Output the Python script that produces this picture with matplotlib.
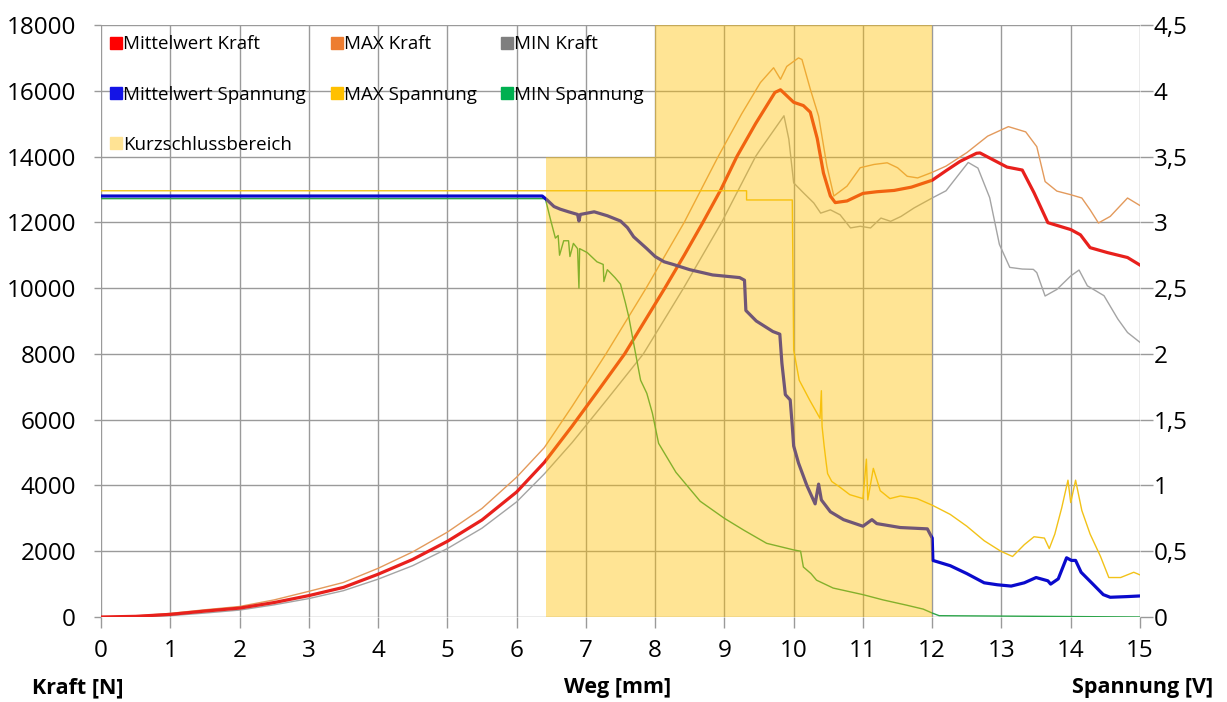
import matplotlib
matplotlib.use("Agg")
import matplotlib.pyplot as plt
from matplotlib.lines import Line2D
from matplotlib.ticker import FixedLocator, FuncFormatter

plt.rcParams["font.family"] = ["Open Sans", "DejaVu Sans"]

# ---- Kraft [N] über Weg [mm] ----
weg_kraft_mittel = [0, 0.5, 1, 1.5, 2, 2.5, 3, 3.5, 4, 4.5, 5, 5.5, 6, 6.4, 6.8, 7.2,
                    7.56, 7.85, 8.14, 8.42, 8.69, 8.95, 9.18, 9.45, 9.73, 9.81, 10.0,
                    10.14, 10.24, 10.34, 10.43, 10.53, 10.6, 10.77, 11.0, 11.2, 11.45,
                    11.7, 12.0, 12.2, 12.4, 12.64, 12.69, 12.88, 13.08, 13.3, 13.47,
                    13.67, 14.0, 14.14, 14.28, 14.53, 14.82, 15.0]
kraft_mittel = [0, 20, 80, 180, 270, 440, 650, 900, 1300, 1750, 2300, 2950, 3800, 4700,
                5800, 6950, 8000, 9000, 10000, 11000, 12000, 13000, 14000, 15000, 15950,
                16030, 15650, 15550, 15350, 14550, 13500, 12800, 12600, 12650, 12880,
                12930, 12970, 13070, 13280, 13570, 13850, 14100, 14110, 13900, 13680,
                13590, 12900, 11990, 11780, 11620, 11230, 11080, 10930, 10700]

weg_kraft_max = [0, 0.5, 1, 1.5, 2, 2.5, 3, 3.5, 4, 4.5, 5, 5.5, 6, 6.4, 6.8, 7.29,
                 7.87, 8.42, 8.91, 9.25, 9.52, 9.71, 9.81, 9.9, 10.07, 10.12, 10.24,
                 10.36, 10.48, 10.58, 10.77, 10.96, 11.16, 11.35, 11.5, 11.64, 11.79,
                 12.0, 12.2, 12.5, 12.8, 13.1, 13.35, 13.51, 13.63, 13.8, 14.0, 14.16,
                 14.28, 14.4, 14.57, 14.82, 15.0]
kraft_max = [0, 30, 110, 220, 320, 520, 780, 1050, 1480, 1980, 2580, 3300, 4250, 5150,
             6400, 8000, 10000, 12000, 14000, 15300, 16250, 16700, 16350, 16740, 17000,
             16950, 16050, 15230, 13710, 12800, 13100, 13660, 13760, 13810, 13660,
             13400, 13350, 13520, 13710, 14120, 14620, 14910, 14750, 14300, 13240,
             12950, 12840, 12740, 12380, 11980, 12180, 12740, 12510]

weg_kraft_min = [0, 0.5, 1, 1.5, 2, 2.5, 3, 3.5, 4, 4.5, 5, 5.5, 6, 6.4, 6.8, 7.3,
                 7.83, 8.41, 8.96, 9.45, 9.52, 9.86, 9.93, 10.0, 10.14, 10.29, 10.39,
                 10.53, 10.67, 10.82, 10.96, 11.11, 11.26, 11.4, 11.55, 11.74, 12.0,
                 12.2, 12.4, 12.52, 12.66, 12.83, 12.97, 13.12, 13.3, 13.46, 13.51,
                 13.63, 13.8, 14.0, 14.12, 14.24, 14.48, 14.68, 14.82, 15.0]
kraft_min = [0, 0, 40, 120, 210, 370, 560, 800, 1150, 1560, 2080, 2700, 3500, 4350,
             5300, 6600, 8000, 10000, 12000, 14000, 14220, 15240, 14530, 13200, 12900,
             12590, 12280, 12380, 12230, 11830, 11880, 11830, 12130, 12030, 12180,
             12440, 12740, 12960, 13500, 13820, 13650, 12750, 11330, 10630, 10580,
             10570, 10470, 9760, 9960, 10370, 10550, 10070, 9770, 9060, 8650, 8350]

# ---- Spannung [V] über Weg [mm] ----
weg_sp_mittel = [0, 6.37, 6.44, 6.54, 6.63, 6.75, 6.88, 6.9, 6.92, 7.12, 7.31, 7.5,
                 7.6, 7.69, 7.88, 8.0, 8.13, 8.26, 8.5, 8.83, 9.22, 9.29, 9.31, 9.46,
                 9.7, 9.8, 9.83, 9.88, 9.95, 9.98, 10.0, 10.07, 10.19, 10.31, 10.36,
                 10.4, 10.53, 10.72, 11.0, 11.13, 11.2, 11.54, 11.93, 12.0, 12.01,
                 12.26, 12.5, 12.75, 12.94, 13.14, 13.33, 13.5, 13.67, 13.71, 13.82,
                 13.94, 14.01, 14.07, 14.15, 14.32, 14.47, 14.57, 14.81, 15.0]
sp_mittel = [3.2, 3.2, 3.17, 3.12, 3.10, 3.08, 3.06, 3.01, 3.06, 3.08, 3.05, 3.01,
             2.96, 2.89, 2.80, 2.74, 2.70, 2.68, 2.64, 2.60, 2.58, 2.56, 2.33, 2.25,
             2.17, 2.15, 1.93, 1.69, 1.65, 1.45, 1.30, 1.17, 1.0, 0.86, 1.01,
             0.89, 0.80, 0.74, 0.69, 0.74, 0.71, 0.68, 0.67, 0.60, 0.43,
             0.39, 0.33, 0.26, 0.245, 0.235, 0.26, 0.30, 0.275, 0.25, 0.29,
             0.45, 0.43, 0.43, 0.34, 0.25, 0.17, 0.15, 0.155, 0.16]

weg_sp_max = [0, 9.32, 9.32, 9.98, 10.0, 10.08, 10.23, 10.38, 10.4, 10.41, 10.44,
              10.47, 10.49, 10.55, 10.66, 10.81, 11.0, 11.05, 11.07, 11.15, 11.25,
              11.39, 11.54, 11.78, 12.0, 12.26, 12.5, 12.75, 12.99, 13.16, 13.33,
              13.47, 13.62, 13.69, 13.77, 13.87, 13.96, 14.0, 14.07, 14.16, 14.28,
              14.43, 14.55, 14.72, 14.91, 15.0]
sp_max = [3.24, 3.24, 3.17, 3.17, 2.03, 1.80, 1.65, 1.51, 1.72, 1.45, 1.30,
          1.17, 1.09, 1.03, 0.99, 0.93, 0.90, 1.20, 0.89, 1.13, 0.96,
          0.90, 0.92, 0.90, 0.85, 0.78, 0.69, 0.58, 0.50, 0.46, 0.55,
          0.61, 0.60, 0.52, 0.63, 0.83, 1.04, 0.87, 1.04, 0.81, 0.63,
          0.46, 0.30, 0.30, 0.34, 0.32]

weg_sp_min = [0, 6.4, 6.42, 6.49, 6.56, 6.6, 6.62, 6.68, 6.75, 6.77, 6.82, 6.88, 6.9,
              6.91, 7.02, 7.16, 7.25, 7.26, 7.31, 7.42, 7.5, 7.57, 7.62, 7.69, 7.79,
              7.88, 7.96, 8.05, 8.3, 8.65, 9.0, 9.28, 9.61, 10.0, 10.1, 10.14, 10.25,
              10.33, 10.57, 11.0, 11.29, 11.63, 11.87, 12.0, 12.1, 15.0]
sp_min = [3.18, 3.18, 3.17, 3.02, 2.88, 2.90, 2.75, 2.86, 2.86, 2.74, 2.84, 2.80, 2.50,
          2.80, 2.77, 2.70, 2.68, 2.55, 2.64, 2.58, 2.53, 2.39, 2.28, 2.08, 1.80,
          1.70, 1.55, 1.32, 1.10, 0.88, 0.75, 0.66, 0.56, 0.51, 0.50, 0.38, 0.33,
          0.28, 0.22, 0.17, 0.13, 0.09, 0.06, 0.03, 0.01, 0.0]

# ---- Kurzschlussbereich (Höhe in Kraft-Einheiten) ----
kurz_weg = [6.42, 8.0, 8.0, 12.0]
kurz_kraft = [14000, 14000, 18000, 18000]

KRAFT_MAX = 18000
SPANNUNG_MAX = 4.5

c_mittel_kraft = "#E8201C"
c_max_kraft = "#E39A5C"
c_min_kraft = "#A4A4A4"
c_mittel_sp = "#0A0ACC"
c_max_sp = "#F2C218"
c_min_sp = "#2CA54A"
c_kurz = "#FFC000"
kurz_alpha = 0.42

fig = plt.figure(figsize=(12.27, 7.02), dpi=100)
ax = fig.add_axes([101 / 1227, 1 - 617 / 702, (1140 - 101) / 1227, (617 - 25) / 702])
ax2 = ax.twinx()

ax.plot(weg_kraft_max, kraft_max, color=c_max_kraft, lw=1.0, zorder=2)
ax.plot(weg_kraft_min, kraft_min, color=c_min_kraft, lw=1.0, zorder=2)
ax.plot(weg_kraft_mittel, kraft_mittel, color=c_mittel_kraft, lw=2.3, zorder=3)

ax2.plot(weg_sp_max, sp_max, color=c_max_sp, lw=1.0, zorder=2)
ax2.plot(weg_sp_min, sp_min, color=c_min_sp, lw=1.0, zorder=2)
ax2.plot(weg_sp_mittel, sp_mittel, color=c_mittel_sp, lw=2.3, zorder=3)

# shaded short-circuit region on top of all curves
kurz_top = [k * SPANNUNG_MAX / KRAFT_MAX for k in kurz_kraft]
ax2.fill_between(kurz_weg, 0, kurz_top, color=c_kurz, alpha=kurz_alpha, lw=0, zorder=5)

ax.set_xlim(0, 15)
ax.set_ylim(0, KRAFT_MAX)
ax2.set_ylim(0, SPANNUNG_MAX)

ax.xaxis.set_major_locator(FixedLocator(range(0, 16)))
ax.yaxis.set_major_locator(FixedLocator(range(0, 18001, 2000)))
ax2.yaxis.set_major_locator(FixedLocator([i * 0.5 for i in range(10)]))
ax2.yaxis.set_major_formatter(FuncFormatter(lambda v, p: f"{v:g}".replace(".", ",")))

grid_c = "#9A9A9A"
ax.grid(True, color=grid_c, lw=1.0, zorder=0)
ax.set_axisbelow(True)
for a in (ax, ax2):
    for s in a.spines.values():
        s.set_visible(False)

ax.tick_params(axis="x", direction="out", length=8, width=1.0, color=grid_c,
               labelsize=17.5, pad=8)
ax.tick_params(axis="y", direction="out", length=5, width=1.0, color=grid_c,
               labelsize=17.5, pad=13)
ax2.tick_params(axis="y", direction="out", length=9, width=1.0, color=grid_c,
                labelsize=17.5, pad=1)

handles = [
    Line2D([], [], marker="s", ls="none", ms=8, color="#FF0000"),
    Line2D([], [], marker="s", ls="none", ms=8, color="#1414E6"),
    Line2D([], [], marker="s", ls="none", ms=8, color="#FFE394"),
    Line2D([], [], marker="s", ls="none", ms=8, color="#ED7D31"),
    Line2D([], [], marker="s", ls="none", ms=8, color="#FFC000"),
    Line2D([], [], marker="s", ls="none", ms=8, color="#7F7F7F"),
    Line2D([], [], marker="s", ls="none", ms=8, color="#00B050"),
]
labels = ["Mittelwert Kraft", "Mittelwert Spannung", "Kurzschlussbereich",
          "MAX Kraft", "MAX Spannung", "MIN Kraft", "MIN Spannung"]
leg = ax2.legend(handles, labels, ncol=3, loc="upper left",
                 bbox_to_anchor=(0.0, 1.0), frameon=False, fontsize=13.5,
                 handlelength=0.55, handletextpad=0.1, columnspacing=1.35,
                 labelspacing=1.72, borderaxespad=0.35, borderpad=0.2)
leg.set_zorder(10)

fig.text(32 / 1227, 1 - 688 / 702, "Kraft [N]", fontsize=15.5, fontweight="bold",
         ha="left", va="center")
fig.text(618 / 1227, 1 - 688 / 702, "Weg [mm]", fontsize=15.5, fontweight="bold",
         ha="center", va="center")
fig.text(1213 / 1227, 1 - 688 / 702, "Spannung [V]", fontsize=15.5, fontweight="bold",
         ha="right", va="center")

fig.savefig("out.png", dpi=100)
